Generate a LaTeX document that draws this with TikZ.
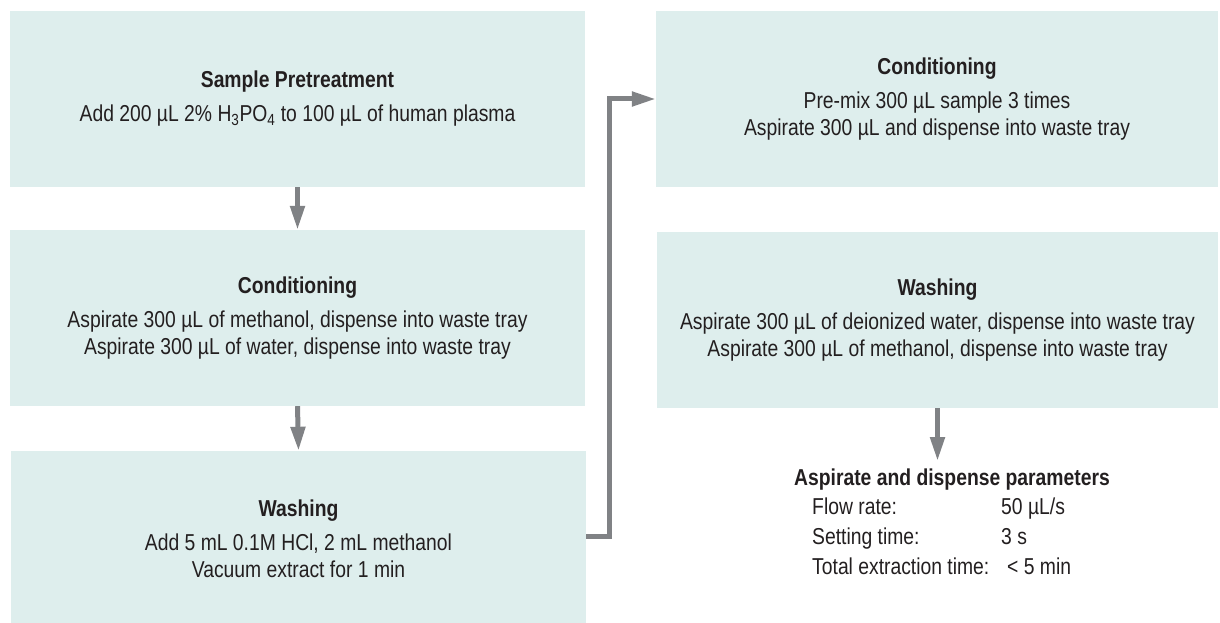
\documentclass[tikz,border=0pt]{standalone}
\usepackage{fontspec}
\setmainfont{Liberation Sans}[FakeStretch=0.84]
\usetikzlibrary{arrows.meta}
\definecolor{boxFill}{RGB}{222,238,237}
\definecolor{arrowGray}{RGB}{128,130,133}
\definecolor{textDark}{RGB}{35,31,32}

\begin{document}
\begin{tikzpicture}[x=1pt,y=-1pt,
    stepbox/.style={fill=boxFill,inner sep=0pt,align=center,text=textDark,
      font=\fontsize{23}{27}\selectfont},
    flowarrow/.style={draw=arrowGray,line width=5pt,
      -{Triangle[length=24pt,width=14pt]}}]
  \useasboundingbox (0,0) rectangle (1220,623);
  % left column
  \node[stepbox,minimum width=575pt,minimum height=176pt] (pretreat) at (297.5,99)
    {\textbf{Sample Pretreatment}\\[7pt]
     Add 200 µL 2\% H\textsubscript{3}PO\textsubscript{4} to 100 µL of human plasma};
  \node[stepbox,minimum width=575pt,minimum height=176pt] (condLeft) at (297.5,318)
    {\textbf{Conditioning}\\[7pt]
     Aspirate 300 µL of methanol, dispense into waste tray\\
     Aspirate 300 µL of water, dispense into waste tray};
  \node[stepbox,minimum width=575pt,minimum height=176pt] (washLeft) at (298.5,539)
    {\textbf{Washing}\\[7pt]
     Add 5 mL 0.1M HCl, 2 mL methanol\\
     Vacuum extract for 1 min};
  % right column
  \node[stepbox,minimum width=562pt,minimum height=176pt] (condRight) at (937,99)
    {\textbf{Conditioning}\\[7pt]
     Pre-mix 300 µL sample 3 times\\
     Aspirate 300 µL and dispense into waste tray};
  \node[stepbox,minimum width=561pt,minimum height=176pt] (washRight) at (937.5,320)
    {\textbf{Washing}\\[7pt]
     Aspirate 300 µL of deionized water, dispense into waste tray\\
     Aspirate 300 µL of methanol, dispense into waste tray};
  \node[anchor=base,text=textDark,outer sep=4pt,
    font=\fontsize{23}{27}\selectfont\bfseries] (params) at (952,485)
    {Aspirate and dispense parameters};
  \foreach \lbl/\val/\yy [count=\i] in {Flow rate:/{50 µL/s}/514,
      Setting time:/{3 s}/544, Total extraction time:/{\kern6pt< 5 min}/574}{
    \node[anchor=base west,inner sep=0pt,text=textDark,
      font=\fontsize{23}{27}\selectfont] (rowLabel\i) at (812,\yy) {\lbl};
    \node[anchor=base west,inner sep=0pt,text=textDark,
      font=\fontsize{23}{27}\selectfont] (rowValue\i) at (1001,\yy) {\val};
  }
  % connectors
  \draw[flowarrow] (pretreat.south) -- (condLeft.north);
  \draw[flowarrow] (condLeft.south) -- (washLeft.north);
  \draw[flowarrow] (washLeft.east |- 0,536) -- ++(23.5,0) |- (condRight.west);
  \draw[flowarrow] (washRight.south) -- (washRight.south |- params.north);
\end{tikzpicture}
\end{document}
